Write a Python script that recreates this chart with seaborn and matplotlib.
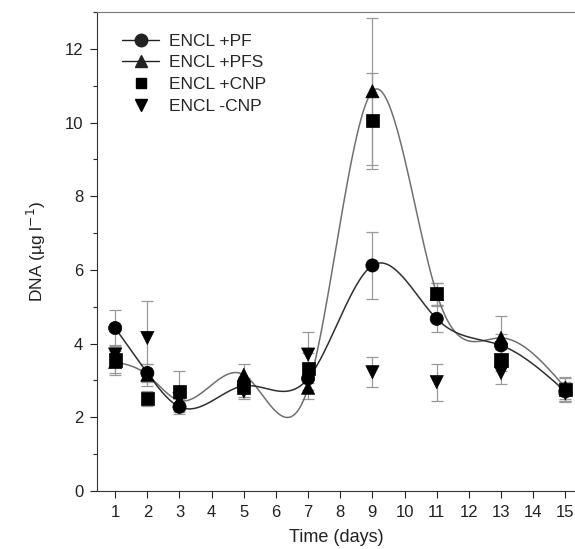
import matplotlib
matplotlib.use("Agg")
import matplotlib.pyplot as plt
import numpy as np
import pandas as pd
import seaborn as sns
from matplotlib.lines import Line2D
from matplotlib.ticker import MultipleLocator

# data
days = [1, 2, 3, 5, 7, 9, 11, 13, 15]
pf = [4.42, 3.2, 2.28, 2.85, 3.05, 6.12, 4.67, 3.95, 2.7]
pf_err = [0.5, 0.25, 0.2, 0.2, 0.3, 0.9, 0.35, 0.3, 0.25]
pfs = [3.5, 3.15, 2.45, 3.15, 2.8, 10.85, 5.35, 4.15, 2.8]
pfs_err = [0.3, 0.3, 0.2, 0.3, 0.3, 2.0, 0.3, 0.6, 0.3]
cnp = [3.55, 2.5, 2.7, 2.8, 3.33, 10.05, 5.35, 3.55, 2.75]
cnp_err = [0.4, 0.2, 0.55, 0.25, 0.4, 1.3, 0.3, 0.3, 0.3]
mcnp = [3.7, 4.15, 2.5, 2.7, 3.7, 3.22, 2.95, 3.2, 2.65]
mcnp_err = [0.2, 1.0, 0.3, 0.2, 0.6, 0.4, 0.5, 0.3, 0.25]

labels = ["ENCL +PF", "ENCL +PFS", "ENCL +CNP", "ENCL -CNP"]
markers = ["o", "^", "s", "v"]


def spline(x, y, n=400):
    # natural cubic spline through the points, only used to draw the smooth line
    x = np.asarray(x, float)
    y = np.asarray(y, float)
    h = np.diff(x)
    k = len(x)
    A = np.zeros((k, k))
    b = np.zeros(k)
    A[0, 0] = A[-1, -1] = 1
    for i in range(1, k - 1):
        A[i, i - 1] = h[i - 1]
        A[i, i] = 2 * (h[i - 1] + h[i])
        A[i, i + 1] = h[i]
        b[i] = 3 * ((y[i + 1] - y[i]) / h[i] - (y[i] - y[i - 1]) / h[i - 1])
    c = np.linalg.solve(A, b)
    xs = np.linspace(x[0], x[-1], n)
    idx = np.clip(np.searchsorted(x, xs) - 1, 0, k - 2)
    dx = xs - x[idx]
    bc = (y[1:] - y[:-1]) / h - h * (2 * c[:-1] + c[1:]) / 3
    d = (c[1:] - c[:-1]) / (3 * h)
    ys = y[idx] + bc[idx] * dx + c[idx] * dx**2 + d[idx] * dx**3
    return xs, ys


sns.set_style("ticks")
plt.rcParams["font.family"] = ["Liberation Sans", "DejaVu Sans"]

df = pd.DataFrame({
    "day": days * 4,
    "value": pf + pfs + cnp + mcnp,
    "err": pf_err + pfs_err + cnp_err + mcnp_err,
    "series": sum([[l] * len(days) for l in labels], []),
})

fig = plt.figure(figsize=(5.75, 5.49), dpi=100)
ax = fig.add_axes([0.169, 0.106, 0.831, 0.872])

# smooth lines for PF and PFS
xs, ys = spline(days, pfs)
ax.plot(xs, ys, color="#707070", lw=1.1, zorder=2)
xs, ys = spline(days, pf)
ax.plot(xs, ys, color="#303030", lw=1.1, zorder=2)

# error bars
for lab in labels:
    sub = df[df["series"] == lab]
    ax.errorbar(sub["day"], sub["value"], yerr=sub["err"], fmt="none",
                ecolor="#999999", elinewidth=0.9, capsize=4, capthick=0.9, zorder=1)

sns.scatterplot(data=df, x="day", y="value", style="series", markers=markers,
                style_order=labels, color="black", s=90, edgecolor="black",
                linewidth=0.5, legend=False, ax=ax, zorder=3)

handles = [
    Line2D([], [], color="#222222", lw=1, marker="o", markersize=9),
    Line2D([], [], color="#222222", lw=1, marker="^", markersize=8),
    Line2D([], [], color="black", lw=0, marker="s", markersize=7),
    Line2D([], [], color="black", lw=0, marker="v", markersize=8),
]
ax.legend(handles, labels, loc="upper left", bbox_to_anchor=(0.02, 0.988),
          frameon=False, fontsize=12.5, handlelength=2.1, labelspacing=0.38,
          handletextpad=0.6)

ax.set_xlim(0.44, 15.3)
ax.set_ylim(0, 13)
ax.set_xticks(range(1, 16))
ax.yaxis.set_major_locator(MultipleLocator(2))
ax.yaxis.set_minor_locator(MultipleLocator(1))
ax.tick_params(labelsize=12, colors="#222222", length=5, width=0.8, pad=5)
ax.tick_params(which="minor", length=3, width=0.8)
ax.set_xlabel("Time (days)", fontsize=13, color="#222222", labelpad=7)
ax.set_ylabel("DNA (µg l$^{-1}$)", fontsize=12.5, color="#222222", labelpad=12)

for s in ["left", "bottom"]:
    ax.spines[s].set_color("#333333")
    ax.spines[s].set_linewidth(0.8)
ax.spines["top"].set_color("#777777")
ax.spines["top"].set_linewidth(0.8)
ax.spines["right"].set_visible(False)

fig.savefig("out.png", dpi=100)
